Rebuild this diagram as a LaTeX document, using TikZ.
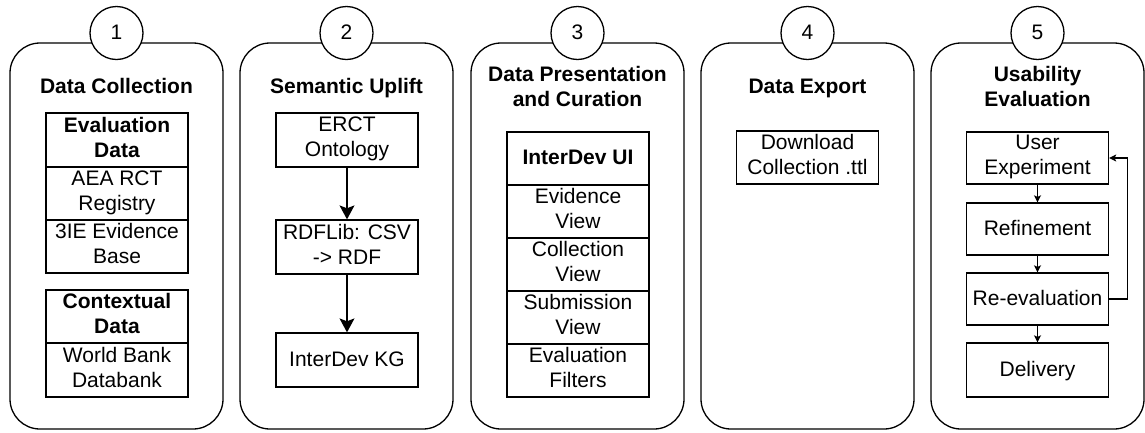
\documentclass[tikz,border=0pt]{standalone}
\usepackage{fontspec}
\setmainfont{Liberation Sans}
\usetikzlibrary{arrows.meta}
\newcommand\topstrut{\rule{0pt}{18.5pt}}
\newcommand\botstrut{\rule[-6pt]{0pt}{6pt}}
\newcommand\fs{\fontsize{21}{25}\selectfont}
\begin{document}
\begin{tikzpicture}[x=1pt,y=-1pt,
  line width=1.3pt,
  panel/.style={draw, rounded corners=30pt, minimum width=213pt, minimum height=386pt, inner sep=0pt},
  num/.style={draw, circle, fill=white, minimum size=53pt, inner sep=0pt, font=\fs, execute at begin node=\topstrut, execute at end node=\botstrut},
  ttl/.style={font=\fs\bfseries, align=center, inner sep=0pt, execute at begin node=\topstrut, execute at end node=\botstrut},
  cell/.style={draw, minimum width=142pt, minimum height=#1, inner sep=0pt, align=center, font=\fs, execute at begin node=\topstrut, execute at end node=\botstrut},
  cell/.default=53pt,
  hcell/.style={cell=#1, font=\fs\bfseries},
  hcell/.default=53pt,
  bigarrow/.style={-{Stealth[length=14pt,width=15pt,inset=3pt]}},
  smallarrow/.style={-{Stealth[length=7pt,width=7pt,inset=1.5pt]}},
]
\useasboundingbox (0,0) rectangle (1145,432);

% panels
\node[panel] (p1) at (116.5,236) {};
\node[panel] (p2) at (346.5,236) {};
\node[panel] (p3) at (577.5,236) {};
\node[panel] (p4) at (807.5,236) {};
\node[panel] (p5) at (1037.5,236) {};

% numbers
\node[num] (n1) at (116.5,33) {1};
\node[num] (n2) at (346.5,33) {2};
\node[num] (n3) at (577.5,33) {3};
\node[num] (n4) at (807.5,33) {4};
\node[num] (n5) at (1037.5,33) {5};

% titles
\node[ttl] (t1) at (116.5,87) {Data Collection};
\node[ttl] (t2) at (346.5,87) {Semantic Uplift};
\node[ttl] (t3) at (577.5,89) {Data Presentation\\and Curation};
\node[ttl] (t4) at (807.5,87) {Data Export};
\node[ttl] (t5) at (1037.5,89) {Usability\\Evaluation};

% panel 1
\node[hcell=54pt] (evh) at (117,140) {Evaluation\\Data};
\node[cell] (aea) at (117,193.5) {AEA RCT\\Registry};
\node[cell] (ie) at (117,246.5) {3IE Evidence\\Base};
\node[hcell=53pt] (ctx) at (117,316.5) {Contextual\\Data};
\node[cell=54pt] (wb) at (117,370) {World Bank\\Databank};

% panel 2
\node[cell=54pt] (erct) at (347,140) {ERCT\\Ontology};
\node[cell=54pt] (rdf) at (347,247) {RDFLib: CSV\\-> RDF};
\node[cell=54pt] (kg) at (347,360) {InterDev KG};
\draw[bigarrow] (erct) -- (rdf);
\draw[bigarrow] (rdf) -- (kg);

% panel 3
\node[hcell] (ui) at (578,158.5) {InterDev UI};
\node[cell] (ev) at (578,211.5) {Evidence\\View};
\node[cell] (cv) at (578,264.5) {Collection\\View};
\node[cell] (sv) at (578,317.5) {Submission\\View};
\node[cell] (ef) at (578,370.5) {Evaluation\\Filters};

% panel 4
\node[cell] (dl) at (807.5,157.5) {Download\\Collection .ttl};

% panel 5
\node[cell=52pt] (ue) at (1037.5,158) {User\\Experiment};
\node[cell=52pt] (ref) at (1037.5,229) {Refinement};
\node[cell=52pt] (reev) at (1037.5,299) {Re-evaluation};
\node[cell=54pt] (del) at (1037.5,370) {Delivery};
\draw[smallarrow] (ue) -- (ref);
\draw[smallarrow] (ref) -- (reev);
\draw[smallarrow] (reev) -- (del);
\draw[smallarrow] (reev.east) -- ++(18,0) |- (ue.east);
\end{tikzpicture}
\end{document}
